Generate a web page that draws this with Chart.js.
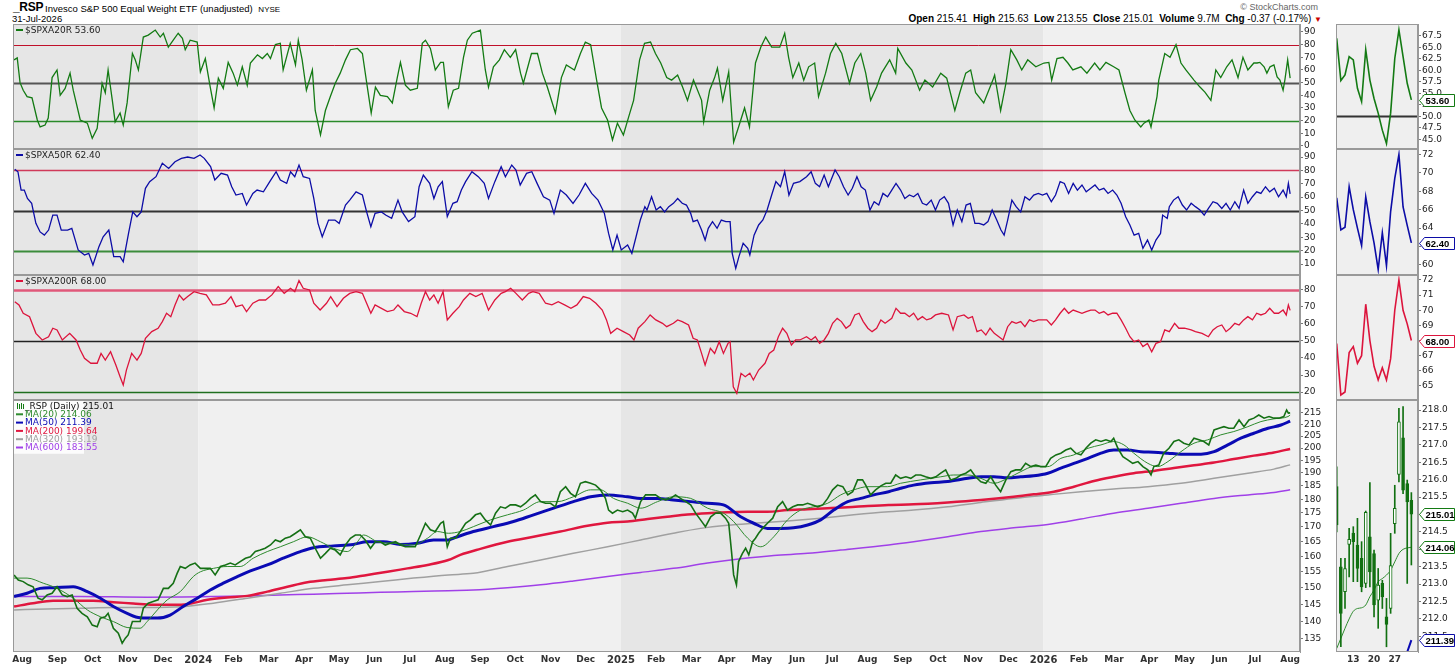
<!DOCTYPE html>
<html>
<head>
<meta charset="utf-8">
<script src="https://cdn.jsdelivr.net/npm/chart.js@4.4.1/dist/chart.umd.min.js"></script>
<style>
  body { margin: 0; background: #fff; width: 1456px; height: 666px; overflow: hidden; position: relative; font-family: "Liberation Sans", Arial, sans-serif; }
  .hdr { position: absolute; white-space: nowrap; color: #000; }
  #main { position: absolute; left: 0; top: 24px; }
  #side { position: absolute; left: 1336px; top: 24px; }
</style>
</head>
<body>
<div class="hdr" style="left:13px;top:0px;font-size:12px;font-weight:bold;letter-spacing:-0.3px;">_RSP</div>
<div class="hdr" style="left:45px;top:3px;font-size:9.5px;">Invesco S&amp;P 500 Equal Weight ETF (unadjusted) <span style="font-size:8px;margin-left:3px;">NYSE</span></div>
<div class="hdr" style="left:12px;top:13px;font-size:9.5px;">31-Jul-2026</div>
<div class="hdr" style="right:138px;top:2px;font-size:9px;color:#666;">&copy; StockCharts.com</div>
<div class="hdr" style="right:134px;top:13px;font-size:10px;">
  <b>Open</b> 215.41&nbsp; <b>High</b> 215.63&nbsp; <b>Low</b> 213.55&nbsp; <b>Close</b> 215.01&nbsp; <b>Volume</b> 9.7M&nbsp; <b>Chg</b> -0.37 (-0.17%) <span style="color:#c00;font-size:8px;">&#9660;</span>
</div>
<canvas id="main" width="1330" height="642"></canvas>
<canvas id="side" width="120" height="642"></canvas>
<script>
// x values are months since 1-Aug-2023
const monthLabels = ['Aug','Sep','Oct','Nov','Dec','2024','Feb','Mar','Apr','May','Jun','Jul',
  'Aug','Sep','Oct','Nov','Dec','2025','Feb','Mar','Apr','May','Jun','Jul',
  'Aug','Sep','Oct','Nov','Dec','2026','Feb','Mar','Apr','May','Jun','Jul','Aug'];
const yearStarts = [5, 17, 29];

const a20Ticks = [0, 10, 20, 30, 40, 50, 60, 70, 80, 90];
const a50Ticks = [10, 20, 30, 40, 50, 60, 70, 80, 90];
const a200Ticks = [20, 30, 40, 50, 60, 70, 80];
const priceTicks = [135, 140, 145, 150, 155, 160, 165, 170, 175, 180, 185, 190, 195, 200, 205, 210, 215];
const breadthLevels = [80, 50, 20];

// $SPXA20R
const a20 = [[-0.23,68],[-0.14,69.5],[-0.06,50],[0.03,44],[0.14,39],[0.28,38],[0.43,20.5],[0.51,15],[0.65,16.5],[0.74,22],[0.85,54],[0.99,60],[1.08,40],[1.22,45.5],[1.36,57.5],[1.45,44],[1.65,20.5],[1.85,18],[1.99,6],[2.13,14],[2.27,49.5],[2.36,42],[2.44,60],[2.56,36],[2.64,19],[2.78,26],[2.87,16.5],[2.98,34],[3.13,73],[3.21,68],[3.30,60],[3.44,86],[3.58,87.5],[3.78,91.5],[3.92,86],[4.01,89],[4.15,78],[4.29,83.5],[4.43,89],[4.55,85],[4.63,76],[4.77,83.5],[4.97,82],[5.06,58.5],[5.20,69],[5.34,46.5],[5.45,30],[5.57,53.5],[5.71,45.5],[5.85,66],[5.99,57.5],[6.11,48],[6.25,62.5],[6.39,48],[6.48,65.5],[6.68,72],[6.82,69],[6.96,73],[7.05,69],[7.19,80],[7.33,81],[7.41,60],[7.61,81],[7.76,64],[7.84,83.5],[7.95,68],[8.07,44],[8.24,60],[8.32,28],[8.47,8.7],[8.61,28],[8.75,39],[8.89,49.5],[9.03,57.5],[9.18,68],[9.32,76],[9.52,77],[9.66,73],[9.80,46.5],[9.91,26],[10.03,46.5],[10.17,40],[10.37,39],[10.51,34],[10.65,54],[10.74,66],[10.88,48],[11.02,44],[11.22,45.5],[11.36,81],[11.45,83.5],[11.59,77],[11.73,60],[11.88,66],[11.96,66],[12.10,31],[12.24,44],[12.39,45.5],[12.53,70],[12.64,83.5],[12.78,89],[13.01,91.5],[13.15,60],[13.24,46.5],[13.38,62.5],[13.55,68],[13.69,76],[13.86,70],[14.01,76],[14.15,57.5],[14.23,49.5],[14.46,73],[14.63,73],[14.77,57.5],[14.91,46.5],[15.14,26],[15.31,54],[15.45,64],[15.68,60],[15.85,73],[15.99,82],[16.14,80],[16.31,52],[16.45,30],[16.62,20.5],[16.76,4.7],[16.90,18],[17.07,8.7],[17.22,23],[17.36,36],[17.53,68],[17.67,81],[17.84,82],[17.98,73],[18.13,65.5],[18.30,54],[18.44,52],[18.61,56],[18.75,46.5],[18.89,36],[19.06,52],[19.29,36],[19.35,19],[19.52,44],[19.66,54],[19.74,61.5],[19.89,36],[20.06,58.5],[20.20,3],[20.34,15],[20.51,30],[20.65,15],[20.82,65.5],[20.97,78],[21.11,86],[21.28,78],[21.51,78],[21.65,89],[21.76,70],[21.88,54],[22.05,65.5],[22.19,52],[22.33,62.5],[22.50,65.5],[22.61,39],[22.81,57.5],[22.95,73],[23.10,81],[23.27,73],[23.49,49.5],[23.64,65.5],[23.81,73],[23.95,57.5],[24.09,36],[24.26,46.5],[24.40,57.5],[24.63,68],[24.80,57.5],[24.86,77],[25.09,65.5],[25.26,60],[25.48,44],[25.63,52],[25.85,46.5],[26.08,57.5],[26.25,53.5],[26.48,28],[26.62,42],[26.79,57.5],[26.93,60],[27.07,42],[27.30,34],[27.56,52],[27.61,56],[27.78,28],[27.93,49.5],[28.07,76],[28.24,68],[28.38,60],[28.55,68],[28.78,62.5],[29.01,65.5],[29.15,66],[29.23,52],[29.38,69],[29.55,70],[29.69,65.5],[29.83,60],[30.06,62.5],[30.23,57.5],[30.45,65.5],[30.60,60],[30.77,66],[30.99,62.5],[31.14,60],[31.31,42],[31.45,28],[31.59,20.5],[31.76,15],[31.85,18],[31.99,20.5],[32.05,15],[32.22,39],[32.27,52],[32.44,73],[32.59,70],[32.76,80],[32.90,65.5],[33.04,60],[33.27,52],[33.44,46.5],[33.58,42.5],[33.75,36],[33.89,60],[34.03,54],[34.20,62.5],[34.35,68],[34.52,54],[34.66,70],[34.80,60],[34.97,65.5],[35.06,65.5],[35.14,66],[35.26,62.5],[35.34,57.5],[35.43,62.5],[35.54,64],[35.63,54.5],[35.71,52],[35.80,44],[35.85,52],[35.93,68],[36.0,53.6]];

// $SPXA50R
const a50 = [[-0.21,80.8],[-0.12,79],[-0.03,65.3],[0.06,65.3],[0.15,59],[0.27,55.4],[0.39,40.4],[0.51,34],[0.63,31.6],[0.75,35.4],[0.87,46.6],[0.99,46.6],[1.11,35.4],[1.29,35.4],[1.41,36.7],[1.59,20.5],[1.77,16.7],[1.89,18],[2.01,9.3],[2.18,23],[2.30,30.4],[2.46,35.4],[2.60,15.5],[2.78,15.5],[2.87,11.7],[3.02,32.9],[3.14,49],[3.26,45.4],[3.38,49],[3.50,66.6],[3.62,71.6],[3.80,75.3],[3.98,85.3],[4.16,81.5],[4.34,86.5],[4.52,89],[4.70,90],[4.88,89],[5.05,91.5],[5.17,89],[5.35,82.8],[5.47,72.8],[5.65,77.8],[5.83,76.5],[5.95,67.8],[6.07,61.6],[6.25,62.8],[6.37,54.1],[6.55,62.8],[6.67,65.3],[6.85,64],[7.03,71.6],[7.21,79],[7.33,72.8],[7.51,70.3],[7.62,79],[7.74,75.3],[7.86,84],[7.98,75.3],[8.16,74],[8.28,59],[8.40,40.4],[8.52,30.4],[8.70,42.9],[8.88,42.9],[9.00,40.4],[9.18,54.1],[9.30,57.8],[9.48,64],[9.66,61.6],[9.78,49],[9.90,37.9],[10.02,47.9],[10.20,49],[10.32,46.6],[10.49,44.1],[10.67,57.8],[10.79,49],[10.97,41.7],[11.15,45.4],[11.27,67.8],[11.39,76.5],[11.57,70.3],[11.69,59],[11.81,67.8],[11.93,71.6],[12.07,45.4],[12.23,55.4],[12.35,56.6],[12.47,65.3],[12.59,71.6],[12.77,79],[12.95,75.3],[13.12,70.3],[13.24,59],[13.42,71.6],[13.60,82.8],[13.72,75.3],[13.90,84],[14.02,80.3],[14.14,69.1],[14.32,77.8],[14.47,79],[14.62,70.3],[14.80,60.3],[14.98,57.8],[15.10,47.9],[15.28,65.3],[15.45,61.6],[15.64,55.4],[15.81,61.6],[15.99,70.3],[16.17,62.8],[16.35,57.8],[16.53,47.9],[16.65,32.9],[16.77,20.5],[16.89,31.6],[17.01,20.5],[17.19,24.2],[17.31,18],[17.43,30.4],[17.55,42.9],[17.68,52.9],[17.74,50.4],[17.87,60.3],[18.0,50.4],[18.12,52.9],[18.24,49],[18.36,52.9],[18.49,55.4],[18.61,59],[18.74,55.4],[18.86,54.1],[18.98,47.9],[19.05,41.7],[19.17,42.9],[19.29,35.4],[19.39,27.9],[19.48,36.7],[19.60,41.7],[19.73,36.7],[19.85,42.9],[19.98,41.7],[20.10,41.7],[20.16,18],[20.26,6.8],[20.35,15.5],[20.47,25.5],[20.60,21.7],[20.66,16.7],[20.78,31.6],[20.91,39.2],[21.03,42.9],[21.15,50.4],[21.28,61.6],[21.40,71.6],[21.53,67.8],[21.65,79],[21.77,61.6],[21.90,70.3],[22.08,71.6],[22.27,75.3],[22.40,79],[22.52,70.3],[22.64,67.8],[22.77,76.5],[22.89,67.8],[23.08,80.3],[23.20,75.3],[23.32,67.8],[23.45,61.6],[23.57,66.6],[23.70,75.3],[23.82,67.8],[23.94,65.3],[24.07,50.4],[24.19,56.6],[24.32,54.1],[24.44,62.8],[24.57,60.3],[24.69,65.3],[24.81,70.3],[24.94,65.3],[25.06,59],[25.19,61.6],[25.31,60.3],[25.43,62.8],[25.56,55.4],[25.68,54.1],[25.81,57.8],[25.93,50.4],[26.05,57.8],[26.18,60.3],[26.30,55.4],[26.43,39.2],[26.55,50.4],[26.68,41.7],[26.80,54.1],[26.92,55.4],[27.05,40.4],[27.17,40.4],[27.30,39.2],[27.42,41.7],[27.54,50.4],[27.67,42.9],[27.79,35.4],[27.88,31.6],[27.98,42.9],[28.10,57.8],[28.22,52.9],[28.35,49],[28.47,60.3],[28.60,57.8],[28.72,61.6],[28.85,62.8],[28.97,61.6],[29.09,62.8],[29.22,56.6],[29.34,61.6],[29.47,71.6],[29.59,70.3],[29.71,62.8],[29.84,70.3],[29.96,65.3],[30.09,69.1],[30.21,64],[30.34,66.6],[30.46,69.1],[30.58,65.3],[30.71,66.6],[30.83,62.8],[30.96,65.3],[31.08,61.6],[31.20,55.4],[31.33,45.4],[31.45,39.2],[31.57,31.6],[31.70,32.9],[31.82,21.7],[31.95,27.9],[32.07,20.5],[32.19,27.9],[32.32,32.9],[32.38,46.6],[32.51,44.1],[32.57,52.9],[32.69,57.8],[32.82,60.3],[32.94,54.1],[33.06,50.4],[33.19,55.4],[33.31,52.9],[33.44,50.4],[33.56,46.6],[33.68,51.6],[33.81,56.6],[33.93,55.4],[34.06,51.6],[34.18,55.4],[34.30,50.4],[34.43,56.6],[34.55,51.6],[34.68,65.3],[34.80,55.4],[34.93,60.3],[35.05,64],[35.17,62.8],[35.30,67.8],[35.42,64],[35.55,66.6],[35.67,60.3],[35.80,65.3],[35.89,60.3],[35.95,70.3],[36.0,62.4]];

// $SPXA200R
const a200 = [[-0.21,73.1],[-0.09,71.2],[0.03,66.3],[0.21,64.3],[0.39,54.5],[0.57,50.6],[0.75,52.5],[0.87,57.5],[0.99,56.5],[1.14,50.6],[1.35,54.5],[1.53,50.6],[1.65,44.7],[1.77,39.8],[1.95,36.9],[2.13,36.9],[2.24,42.7],[2.36,38.8],[2.51,43.7],[2.66,35.9],[2.78,29],[2.87,24.1],[2.96,32.9],[3.11,42.7],[3.26,38.8],[3.38,42.7],[3.50,51.6],[3.68,55.5],[3.86,57.5],[3.98,61.4],[4.10,66.3],[4.22,64.3],[4.34,71.2],[4.46,77.1],[4.58,74.1],[4.70,76.1],[4.88,79],[5.05,78],[5.23,77.1],[5.41,71.2],[5.59,71.2],[5.77,72.2],[5.93,76.1],[6.07,70.2],[6.25,71.2],[6.37,67.3],[6.55,72.2],[6.73,74.1],[6.91,74.1],[7.09,77.1],[7.27,82],[7.44,78],[7.62,81],[7.74,79],[7.86,85.5],[7.98,81],[8.16,80],[8.28,72.2],[8.46,68.2],[8.64,72.2],[8.76,76.1],[8.94,70.2],[9.12,75.1],[9.30,78],[9.48,79],[9.66,78],[9.78,72.2],[9.90,66.3],[10.02,71.2],[10.20,69.2],[10.37,67.3],[10.55,68.2],[10.67,71.2],[10.85,67.3],[11.03,66.3],[11.21,64.3],[11.33,72.2],[11.45,79],[11.57,74.1],[11.69,77.1],[11.81,72.2],[11.95,79],[12.07,62.4],[12.23,66.3],[12.41,70.2],[12.53,74.1],[12.71,78],[12.88,76.1],[13.06,78],[13.24,68.2],[13.42,74.1],[13.60,78],[13.72,79],[13.87,81],[14.02,78],[14.20,74.1],[14.38,78],[14.50,79],[14.68,78],[14.86,72.2],[15.04,71.2],[15.22,73.1],[15.40,71.2],[15.58,69.2],[15.75,71.2],[15.93,76.1],[16.11,75.1],[16.29,72.2],[16.47,68.2],[16.59,62.4],[16.71,54.5],[16.89,57.5],[17.07,55.5],[17.25,53.5],[17.37,50.6],[17.49,57.5],[17.68,61.4],[17.83,65.3],[17.99,62.4],[18.18,60.4],[18.30,58.4],[18.49,60.4],[18.61,62.4],[18.74,61.4],[18.92,59.4],[19.05,51.6],[19.17,50.6],[19.29,42.7],[19.39,35.9],[19.54,45.7],[19.66,42.7],[19.79,49.6],[19.91,42.7],[20.04,48.6],[20.10,49.6],[20.19,23.1],[20.29,19.2],[20.41,31],[20.53,29],[20.66,31],[20.76,27.1],[20.91,32.9],[21.09,36.9],[21.21,42.7],[21.34,44.7],[21.47,52.5],[21.59,57.5],[21.71,54.5],[21.84,47.6],[21.96,50.6],[22.08,50.6],[22.27,52.5],[22.40,50.6],[22.52,52.5],[22.64,48.6],[22.77,50.6],[22.89,54.5],[23.01,60.4],[23.14,63.3],[23.26,61.4],[23.39,57.5],[23.51,59.4],[23.64,65.3],[23.76,66.3],[23.88,61.4],[24.01,57.5],[24.13,55.5],[24.26,57.5],[24.38,62.4],[24.50,60.4],[24.69,63.3],[24.81,69.2],[24.94,66.3],[25.06,66.3],[25.19,64.3],[25.31,66.3],[25.43,62.4],[25.56,64.3],[25.68,62.4],[25.81,63.3],[25.93,65.3],[26.11,66.3],[26.30,65.3],[26.43,56.5],[26.55,64.3],[26.74,65.3],[26.86,63.3],[26.98,64.3],[27.11,55.5],[27.23,56.5],[27.36,53.5],[27.48,57.5],[27.60,54.5],[27.73,52.5],[27.85,50.6],[27.98,58.4],[28.10,61.4],[28.22,60.4],[28.35,61.4],[28.47,58.4],[28.60,62.4],[28.72,61.4],[28.85,62.4],[28.97,62.4],[29.09,62.4],[29.22,59.4],[29.34,62.4],[29.47,66.3],[29.59,69.2],[29.71,66.3],[29.84,68.2],[29.96,67.3],[30.09,66.3],[30.21,67.3],[30.34,68.2],[30.46,68.2],[30.58,66.3],[30.71,67.3],[30.83,65.3],[30.96,66.3],[31.08,66.3],[31.20,62.4],[31.33,57.5],[31.45,52.5],[31.57,49.6],[31.70,50.6],[31.82,46.7],[31.95,48.6],[32.07,43.7],[32.19,48.6],[32.32,49.6],[32.44,56.5],[32.57,55.5],[32.72,60.4],[32.84,57.5],[33.00,57.5],[33.19,56.5],[33.31,55.5],[33.50,54.5],[33.68,52.5],[33.81,56.5],[33.93,58.4],[34.06,59.4],[34.18,55.5],[34.30,57.5],[34.43,60.4],[34.55,59.4],[34.68,62.4],[34.80,64.3],[34.93,62.4],[35.05,66.3],[35.17,65.3],[35.30,66.3],[35.42,69.2],[35.55,66.3],[35.67,66.3],[35.80,68.2],[35.89,65.3],[35.95,71.2],[36.0,68.0]];

// RSP daily close
const rspClose = [[-0.23,154.0],[-0.11,152.4],[0.03,151.9],[0.17,150.9],[0.31,150.3],[0.45,146.8],[0.57,146.3],[0.71,147.8],[0.85,148.3],[0.99,150.3],[1.14,147.8],[1.28,147.3],[1.42,147.8],[1.56,143.8],[1.70,142.3],[1.85,141.3],[1.99,138.9],[2.13,138.4],[2.22,140.9],[2.36,141.3],[2.44,142.3],[2.59,138.0],[2.73,136.6],[2.84,133.8],[2.93,135.2],[3.01,136.1],[3.13,139.9],[3.27,139.9],[3.35,139.9],[3.44,143.8],[3.58,145.3],[3.72,145.8],[3.86,146.3],[4.01,149.8],[4.15,149.8],[4.29,151.4],[4.40,154.5],[4.49,156.7],[4.63,156.1],[4.77,157.2],[4.91,157.8],[5.06,156.1],[5.20,156.1],[5.34,156.1],[5.48,154.0],[5.63,156.7],[5.77,157.2],[5.91,157.8],[6.05,157.2],[6.19,158.3],[6.34,159.4],[6.48,159.9],[6.62,161.6],[6.76,162.1],[6.90,162.7],[7.05,163.8],[7.19,165.5],[7.33,164.9],[7.47,166.1],[7.61,166.6],[7.76,167.8],[7.90,169.0],[8.04,166.6],[8.18,166.1],[8.32,162.7],[8.47,159.4],[8.61,161.0],[8.75,162.7],[8.89,162.1],[9.03,160.5],[9.18,163.8],[9.32,166.1],[9.46,167.2],[9.60,167.2],[9.74,165.5],[9.89,162.7],[10.03,164.9],[10.17,164.9],[10.31,163.8],[10.45,164.4],[10.60,164.9],[10.74,163.8],[10.88,163.2],[11.02,163.2],[11.16,163.2],[11.31,167.2],[11.45,171.3],[11.59,169.0],[11.73,168.4],[11.88,171.3],[11.96,171.9],[12.07,163.2],[12.16,166.1],[12.30,166.1],[12.44,168.4],[12.59,171.3],[12.73,172.5],[12.87,174.3],[13.01,174.9],[13.15,172.5],[13.30,170.7],[13.44,174.9],[13.58,177.2],[13.72,176.7],[13.86,177.9],[14.01,177.9],[14.15,177.2],[14.29,178.5],[14.43,180.3],[14.57,181.6],[14.72,179.1],[14.86,178.5],[15.00,178.5],[15.14,177.2],[15.28,182.8],[15.43,184.7],[15.57,182.2],[15.71,180.9],[15.85,186.0],[15.99,186.6],[16.14,186.0],[16.28,185.3],[16.42,183.5],[16.56,180.3],[16.65,176.0],[16.76,174.9],[16.90,176.0],[17.05,175.4],[17.19,176.0],[17.33,174.9],[17.41,173.1],[17.56,179.1],[17.70,181.6],[17.84,181.6],[17.98,181.6],[18.13,180.3],[18.27,179.7],[18.41,180.3],[18.55,181.6],[18.69,180.3],[18.84,179.1],[18.98,177.9],[19.12,174.9],[19.26,172.5],[19.40,170.1],[19.55,173.6],[19.69,174.9],[19.83,174.9],[19.97,173.1],[20.06,171.3],[20.14,161.6],[20.20,154.0],[20.28,150.9],[20.34,158.3],[20.45,161.0],[20.54,162.7],[20.63,160.5],[20.74,164.9],[20.82,166.1],[20.91,167.8],[21.02,169.5],[21.16,171.3],[21.31,173.1],[21.45,177.2],[21.59,179.1],[21.73,176.0],[21.88,177.2],[22.02,177.9],[22.16,177.9],[22.30,178.5],[22.44,177.9],[22.59,177.2],[22.73,177.9],[22.87,180.3],[23.01,183.5],[23.15,185.3],[23.30,184.7],[23.44,181.6],[23.58,182.8],[23.72,187.3],[23.86,187.3],[23.95,185.3],[24.09,181.6],[24.23,183.5],[24.38,185.0],[24.52,186.0],[24.66,186.0],[24.80,189.2],[24.94,187.9],[25.09,188.5],[25.23,187.9],[25.37,189.2],[25.51,189.2],[25.65,188.5],[25.80,187.9],[25.94,188.5],[26.08,189.9],[26.22,191.2],[26.36,187.3],[26.51,187.9],[26.65,189.2],[26.79,189.9],[26.93,191.2],[27.07,188.5],[27.22,186.6],[27.36,186.0],[27.50,188.5],[27.64,185.3],[27.78,182.8],[27.93,187.3],[28.07,190.5],[28.21,191.2],[28.35,191.2],[28.49,193.8],[28.64,192.5],[28.78,193.1],[28.92,192.5],[29.06,192.5],[29.20,195.8],[29.35,197.2],[29.49,197.9],[29.63,199.2],[29.77,199.9],[29.91,197.9],[30.06,197.2],[30.20,199.9],[30.34,202.0],[30.48,203.4],[30.63,202.7],[30.77,203.4],[30.91,202.7],[30.99,204.1],[31.11,199.9],[31.25,196.5],[31.39,195.2],[31.53,193.8],[31.68,194.5],[31.82,192.5],[31.96,191.2],[32.05,189.2],[32.13,192.5],[32.27,193.1],[32.41,197.9],[32.56,199.9],[32.70,202.7],[32.84,203.4],[32.98,202.0],[33.13,201.3],[33.27,204.1],[33.41,203.4],[33.55,202.7],[33.69,201.3],[33.84,207.6],[33.98,208.3],[34.12,209.0],[34.26,208.3],[34.40,208.3],[34.55,211.9],[34.69,209.0],[34.83,211.9],[34.97,212.7],[35.11,214.1],[35.26,212.7],[35.40,213.4],[35.54,212.7],[35.68,212.7],[35.82,213.4],[35.90,216.3],[35.95,214.9],[36.0,215.01]];

const ma20 = [[-0.23,153.0],[0.14,153.0],[0.60,151.4],[0.99,149.8],[1.45,146.8],[1.85,143.3],[2.22,141.3],[2.59,139.9],[2.98,138.2],[3.35,138.0],[3.55,139.9],[3.84,143.3],[4.12,146.3],[4.49,148.8],[4.86,153.5],[5.06,155.0],[5.43,156.1],[5.82,156.7],[6.19,156.7],[6.56,159.4],[6.96,161.6],[7.33,163.2],[7.70,164.9],[8.10,166.6],[8.47,164.9],[8.84,162.7],[9.23,161.6],[9.52,164.9],[9.69,167.2],[10.09,164.9],[10.54,164.4],[11.11,163.8],[11.51,166.1],[11.79,168.4],[12.10,167.8],[12.44,168.4],[12.81,170.1],[13.30,172.5],[13.78,174.3],[14.23,176.0],[14.72,179.1],[15.20,179.1],[15.65,180.9],[16.14,183.5],[16.42,183.5],[16.79,180.3],[17.19,178.5],[17.56,176.7],[18.04,179.1],[18.49,180.9],[18.98,180.3],[19.46,176.7],[19.91,174.9],[20.20,171.9],[20.60,166.1],[20.97,163.2],[21.34,166.6],[21.73,172.5],[22.10,176.0],[22.47,177.2],[22.87,178.5],[23.24,181.6],[23.61,183.5],[24.01,184.7],[24.57,184.7],[24.94,186.0],[25.51,187.3],[26.08,188.5],[26.45,189.2],[26.85,189.2],[27.22,187.9],[27.59,186.0],[27.98,187.9],[28.35,190.5],[28.72,192.5],[29.12,192.5],[29.49,195.8],[29.86,197.2],[30.26,199.9],[30.63,201.3],[30.99,202.7],[31.28,201.3],[31.56,197.9],[31.96,193.8],[32.24,192.5],[32.53,194.5],[32.90,198.5],[33.27,202.0],[33.66,203.4],[34.03,205.5],[34.40,206.9],[34.80,209.0],[35.17,211.2],[35.54,212.4],[35.94,213.4],[36.0,214.06]];

const ma50 = [[-0.23,147.3],[0.14,148.3],[0.51,149.8],[0.88,150.0],[1.45,150.3],[1.85,148.8],[2.22,146.8],[2.59,144.3],[2.98,142.3],[3.35,141.0],[3.84,140.9],[4.20,141.8],[4.57,144.3],[4.97,146.8],[5.34,149.3],[5.71,151.4],[6.11,153.5],[6.48,155.3],[6.96,157.2],[7.41,159.4],[7.90,161.6],[8.27,162.9],[8.84,163.5],[9.40,164.0],[9.80,164.9],[10.26,164.9],[10.74,164.0],[11.22,164.4],[11.68,165.5],[12.10,165.5],[12.24,166.1],[12.81,168.4],[13.38,170.1],[13.95,171.9],[14.52,174.3],[15.09,176.7],[15.65,179.1],[16.14,180.9],[16.62,181.6],[17.19,180.9],[17.56,180.3],[18.04,180.3],[18.49,179.7],[18.98,179.1],[19.46,178.5],[19.91,177.9],[20.40,173.6],[20.77,171.3],[21.16,169.5],[21.53,169.5],[21.90,169.7],[22.30,170.7],[22.67,172.5],[23.04,176.0],[23.44,179.1],[23.81,180.3],[24.18,181.6],[24.60,182.8],[24.94,184.1],[25.31,185.3],[25.80,186.2],[26.28,186.7],[26.85,187.9],[27.22,188.5],[27.59,188.5],[27.98,188.1],[28.35,188.5],[28.72,188.9],[29.12,189.9],[29.49,191.9],[29.86,193.8],[30.26,195.8],[30.63,197.9],[30.99,199.2],[31.39,199.2],[31.76,198.5],[32.13,198.3],[32.53,197.9],[32.90,197.5],[33.47,197.5],[33.84,198.5],[34.23,201.3],[34.60,204.1],[34.97,206.2],[35.37,208.3],[35.74,209.7],[36.0,211.39]];

const ma200 = [[-0.23,144.3],[0.31,145.3],[0.88,146.0],[2.02,146.0],[2.59,145.6],[3.15,145.2],[3.72,144.8],[4.29,144.8],[4.69,145.0],[5.26,146.3],[5.82,147.0],[6.39,147.5],[6.96,148.8],[7.53,150.3],[8.10,151.7],[8.66,152.4],[9.23,153.0],[9.80,154.0],[10.37,155.0],[10.94,156.1],[11.51,157.2],[12.10,158.8],[12.44,160.5],[13.01,162.5],[13.78,164.9],[14.52,166.6],[15.28,168.4],[16.05,170.4],[16.62,171.5],[17.19,171.9],[17.76,172.8],[18.32,173.6],[18.89,174.4],[19.46,174.9],[20.03,175.2],[20.60,175.4],[21.16,175.4],[21.73,176.0],[22.30,176.3],[22.87,176.7],[23.44,177.0],[24.01,177.5],[24.60,177.9],[25.31,178.1],[26.28,178.8],[27.22,179.7],[28.15,180.9],[28.72,181.8],[29.29,182.8],[29.86,184.7],[30.43,186.9],[30.99,188.5],[31.56,189.9],[32.13,190.8],[32.70,191.9],[33.27,193.0],[33.84,194.1],[34.40,195.5],[34.97,196.9],[35.54,198.2],[36.0,199.64]];

const ma320 = [[-0.23,143.3],[0.71,143.6],[1.65,143.8],[2.59,144.0],[3.55,144.0],[4.49,144.2],[5.43,145.3],[6.39,146.8],[7.33,148.3],[8.27,149.8],[9.23,150.9],[10.17,151.9],[11.11,153.0],[12.10,154.0],[12.81,154.5],[13.78,156.7],[14.72,158.8],[15.65,161.0],[16.62,163.2],[17.56,165.5],[18.49,167.8],[19.26,169.5],[20.03,170.6],[20.77,171.3],[21.73,172.1],[22.67,173.1],[23.61,174.3],[24.60,175.4],[25.31,176.0],[26.28,177.2],[27.22,178.8],[28.15,180.3],[29.12,181.6],[30.06,182.8],[30.99,183.8],[31.96,184.7],[32.90,186.0],[33.84,187.9],[34.80,189.9],[35.54,191.5],[36.0,193.19]];

const ma600 = [[-0.23,147.3],[1.65,147.3],[3.55,147.1],[5.43,147.3],[6.39,147.5],[7.33,147.8],[8.27,148.0],[9.23,148.3],[10.17,148.6],[11.11,148.8],[12.10,149.1],[12.81,149.3],[13.78,150.0],[14.72,150.9],[15.65,152.1],[16.62,153.5],[17.56,154.8],[18.49,156.1],[19.46,157.8],[20.40,159.2],[21.34,160.3],[22.30,161.0],[23.24,162.1],[24.60,163.8],[25.31,164.9],[26.28,166.6],[27.22,168.4],[28.15,169.7],[29.12,170.9],[30.06,172.8],[30.99,174.9],[31.96,176.7],[32.90,178.5],[33.84,180.3],[34.80,181.6],[35.54,182.5],[36.0,183.55]];

// side panels: last 19 sessions (7-Jul .. 31-Jul-2026), x = session index
const dayTicks = [4, 9, 14];
const dayLabels = ['13', '20', '27'];
const m20Ticks = [45, 47.5, 50, 52.5, 55, 57.5, 60, 62.5, 65, 67.5];
const m50Ticks = [60, 62, 64, 66, 68, 70, 72];
const m200Ticks = [65, 66, 67, 68, 69, 70, 71, 72];
const mPxTicks = [211.5, 212, 212.5, 213, 213.5, 214, 214.5, 215, 215.5, 216, 216.5, 217, 217.5, 218];

const a20Recent = [67.0, 57.8, 59.0, 63.0, 62.3, 56.1, 53.2, 64.5, 57.9, 53.9, 50.7, 47.0, 44.1, 50.7, 62.6, 68.8, 63.0, 57.2, 53.6];
const a50Recent = [67.3, 63.8, 64.1, 68.5, 66.0, 64.0, 62.1, 67.4, 64.7, 62.4, 59.5, 63.5, 59.9, 65.8, 69.4, 72.0, 66.3, 64.3, 62.4];
const a200Recent = [67.8, 64.4, 64.6, 67.2, 67.6, 66.5, 67.0, 70.4, 68.0, 66.3, 65.4, 66.2, 65.4, 66.8, 70.0, 72.0, 70.0, 69.1, 68.0];
const dOpen  = [215.8, 213.5, 212.78, 214.14, 214.47, 214.12, 213.74, 213.02, 214.36, 213.88, 212.54, 213.02, 212.06, 212.3, 214.74, 216.15, 217.2, 215.89, 215.41];
const dHigh  = [216.37, 213.74, 213.74, 214.6, 214.65, 214.89, 214.22, 215.1, 215.92, 213.98, 213.45, 213.11, 212.59, 214.46, 215.84, 218.05, 218.1, 215.99, 215.63];
const dLow   = [214.5, 211.2, 212.3, 213.21, 213.07, 213.07, 212.78, 212.9, 212.92, 212.06, 211.73, 212.3, 211.2, 212.16, 214.46, 215.94, 215.6, 213.02, 213.55];
const dClose = [214.7, 212.16, 213.45, 214.29, 214.22, 213.45, 212.92, 215.06, 213.35, 212.4, 212.97, 212.63, 211.84, 213.53, 215.18, 217.66, 215.7, 215.36, 215.01];
const ma20Recent = [211.15, 211.44, 211.73, 212.0, 212.22, 212.3, 212.32, 212.4, 212.64, 212.83, 213.07, 213.16, 213.26, 213.4, 213.64, 213.88, 214.0, 214.04, 214.06];
const ma50Recent = [[16, 210.7], [17, 211.05], [18, 211.39]];

// colours
const GREEN = '#137a13', BLUE = '#0c0ca6', RED = '#dc143c';
const FONT = '"DejaVu Sans", Verdana, sans-serif';

function yAxis(weight, min, max, ticks, width, fmt, type) {
  return {
    type: type || 'linear', position: 'right', stack: 'panels', stackWeight: weight,
    min: min, max: max, bounds: 'data',
    grid: { drawOnChartArea: false, drawTicks: true, tickLength: 3, tickColor: '#777' },
    border: { display: true, color: '#999', dash: [1, 2] },
    ticks: { font: { family: FONT, size: 9 }, color: '#222', padding: 1, autoSkip: false,
             callback: v => fmt ? fmt(v) : String(v) },
    afterBuildTicks: s => { s.ticks = ticks.map(v => ({ value: v })); },
    afterFit: s => { s.width = width; s.paddingTop = 0; s.paddingBottom = 0; }
  };
}

function xAxis(min, max, tickVals, labelOf) {
  return {
    type: 'linear', min: min, max: max, bounds: 'data', offset: false,
    grid: { display: false, drawTicks: false, tickLength: 0 }, border: { display: false },
    ticks: {
      autoSkip: false, maxRotation: 0, padding: 2, color: '#333',
      font: c => ({ family: FONT, size: /^\d{4}$/.test(labelOf(c.tick ? c.tick.value : 0)) ? 10 : 9, weight: 'bold' }),
      callback: v => labelOf(v)
    },
    afterBuildTicks: s => { s.ticks = tickVals.map(v => ({ value: v })); },
    afterFit: s => { s.height = 14; s.paddingLeft = 0; s.paddingRight = 0; }
  };
}

function decor(cfg) {
  return {
    id: 'decor',
    beforeDatasetsDraw(chart) {
      const { ctx, chartArea: ca, scales } = chart;
      const xs = scales.x;
      ctx.save();
      cfg.panels.forEach(p => {
        const s = scales[p.axis];
        if (cfg.bands) {
          const edges = [xs.min].concat(cfg.bands, [xs.max]);
          for (let i = 0; i < edges.length - 1; i++) {
            const x0 = xs.getPixelForValue(edges[i]), x1 = xs.getPixelForValue(edges[i + 1]);
            ctx.fillStyle = i % 2 === 0 ? '#e6e6e6' : '#f0f0f0';
            ctx.fillRect(x0, s.top, x1 - x0, s.bottom - s.top);
          }
        } else {
          ctx.fillStyle = '#efefef';
          ctx.fillRect(ca.left, s.top, ca.width, s.bottom - s.top);
        }
        (p.levels || []).forEach((v, i) => {
          const y = Math.round(s.getPixelForValue(v)) + 0.5;
          ctx.strokeStyle = p.levelColors[i];
          ctx.lineWidth = p.levelWidths[i];
          ctx.beginPath(); ctx.moveTo(ca.left, y); ctx.lineTo(ca.right, y); ctx.stroke();
        });
      });
      ctx.restore();
    },
    afterDatasetsDraw(chart) {
      const { ctx, chartArea: ca, scales } = chart;
      ctx.save();
      cfg.panels.forEach(p => {
        const s = scales[p.axis];
        ctx.strokeStyle = '#999'; ctx.lineWidth = 1;
        ctx.strokeRect(ca.left + 0.5, Math.round(s.top) + 0.5, ca.width - 1, Math.round(s.bottom - s.top) - 1);
        ctx.font = '9px ' + FONT; ctx.textBaseline = 'middle'; ctx.textAlign = 'left';
        if (p.legend) {
          if (p.legendBox) {
            ctx.fillStyle = 'rgba(255,255,255,0.85)';
            ctx.fillRect(ca.left + 1, s.top + 1, 70, p.legend.length * 8.3 + 3);
          }
          p.legend.forEach((row, i) => {
            const y = s.top + 6 + i * 8.3, x = ca.left + 3;
            ctx.strokeStyle = row.color; ctx.lineWidth = 2;
            ctx.beginPath();
            if (row.bars) {
              ctx.lineWidth = 1;
              [1, 3, 5, 7].forEach((dx, k) => { ctx.moveTo(x + dx + 0.5, y - 3 + k % 2); ctx.lineTo(x + dx + 0.5, y + 3); });
            } else { ctx.moveTo(x, y); ctx.lineTo(x + 7, y); }
            ctx.stroke();
            ctx.fillStyle = row.textColor || '#222';
            ctx.fillText(row.text, x + 9, y + 0.5);
          });
        }
      });
      ctx.restore();
    },
    afterDraw(chart) {
      if (!cfg.tags) return;
      const { ctx, chartArea: ca, scales } = chart;
      ctx.save();
      cfg.tags.forEach(t => {
        const y = Math.round(scales[t.axis].getPixelForValue(t.value)) + 0.5;
        const x0 = ca.right + 1.5, w = 35;
        ctx.beginPath();
        ctx.moveTo(x0, y); ctx.lineTo(x0 + 5, y - 6); ctx.lineTo(x0 + w, y - 6);
        ctx.lineTo(x0 + w, y + 6); ctx.lineTo(x0 + 5, y + 6); ctx.closePath();
        ctx.fillStyle = '#fff'; ctx.fill();
        ctx.strokeStyle = t.color; ctx.lineWidth = 1; ctx.stroke();
        ctx.fillStyle = '#000'; ctx.font = 'bold 9.5px "Liberation Sans", Arial, sans-serif';
        ctx.textBaseline = 'middle'; ctx.textAlign = 'left';
        ctx.fillText(t.text, x0 + 6, y + 0.5);
      });
      ctx.restore();
    }
  };
}

const lvlColors1 = ['#c0102a', '#555', '#2a8a2a'];
const mainPanels = [
  { axis: 'yA20', levels: breadthLevels, levelColors: lvlColors1, levelWidths: [1, 2, 1.5],
    legend: [{ text: '$SPXA20R 53.60', color: GREEN }] },
  { axis: 'yA50', levels: breadthLevels, levelColors: ['#d03a5a', '#333', '#3c8c3c'], levelWidths: [1.5, 2, 2],
    legend: [{ text: '$SPXA50R 62.40', color: BLUE }] },
  { axis: 'yA200', levels: breadthLevels, levelColors: ['#e0587a', '#222', '#1f6f1f'], levelWidths: [2.5, 1.5, 1.5],
    legend: [{ text: '$SPXA200R 68.00', color: RED }] },
  { axis: 'yPx', legendBox: true, legend: [
    { text: '_RSP (Daily) 215.01', color: GREEN, bars: true, textColor: '#111' },
    { text: 'MA(20) 214.06', color: '#2e8b2e', textColor: '#2e8b2e' },
    { text: 'MA(50) 211.39', color: '#0a0ab4', textColor: '#0a0ab4' },
    { text: 'MA(200) 199.64', color: '#e0173f', textColor: '#e0173f' },
    { text: 'MA(320) 193.19', color: '#a0a0a0', textColor: '#a0a0a0' },
    { text: 'MA(600) 183.55', color: '#a040e8', textColor: '#a040e8' }] }
];

const line = (data, axis, color, width, smooth) => ({
  type: 'line', data: data, yAxisID: axis, borderColor: color, borderWidth: width,
  pointRadius: 0, tension: 0, cubicInterpolationMode: smooth ? 'monotone' : 'default', fill: false
});

new Chart(document.getElementById('main'), {
  type: 'line',
  data: { datasets: [
    line(rspClose, 'yPx', '#157015', 1.6),
    line(a20, 'yA20', GREEN, 1.3),
    line(a50, 'yA50', BLUE, 1.3),
    line(a200, 'yA200', RED, 1.3),
    line(ma20, 'yPx', '#2e8b2e', 1, true),
    line(ma50, 'yPx', '#0a0ab4', 3, true),
    line(ma200, 'yPx', '#e0173f', 2.5, true),
    line(ma320, 'yPx', '#a0a0a0', 1.5, true),
    line(ma600, 'yPx', '#a040e8', 1.5, true)
  ] },
  options: {
    responsive: false, animation: false, events: [],
    layout: { padding: { left: 13, right: 0, top: 0, bottom: 0 } },
    plugins: { legend: { display: false }, tooltip: { enabled: false } },
    scales: {
      x: xAxis(-0.26, 36.28, monthLabels.map((_, i) => i), v => monthLabels[Math.round(v)] || ''),
      yA20: yAxis(125, -2.4, 96.3, a20Ticks, 30),
      yA50: yAxis(126, 1.8, 96, a50Ticks, 30),
      yA200: yAxis(125, 15.3, 88.8, a200Ticks, 30),
      yPx: yAxis(252, 131.4, 220.8, priceTicks, 30, null, 'logarithmic')
    }
  },
  plugins: [decor({ panels: mainPanels, bands: yearStarts })]
});

const idx = a => a.map((v, i) => [i, v]);
const f1 = v => Number(v).toFixed(1);

new Chart(document.getElementById('side'), {
  type: 'line',
  data: { datasets: [
    line(idx(a20Recent), 'yM20', GREEN, 1.6),
    line(idx(a50Recent), 'yM50', BLUE, 1.6),
    line(idx(a200Recent), 'yM200', RED, 1.6),
    { type: 'bar', yAxisID: 'yMPx', grouped: false, barThickness: 3, minBarLength: 1,
      data: dOpen.map((o, i) => ({ x: i, y: [o, dClose[i]] })),
      backgroundColor: c => dClose[c.dataIndex] > dOpen[c.dataIndex] ? '#fff' : '#117011',
      borderColor: '#117011', borderWidth: 1, borderSkipped: false },
    { type: 'bar', yAxisID: 'yMPx', grouped: false, barThickness: 1,
      data: dLow.map((l, i) => ({ x: i, y: [l, dHigh[i]] })), backgroundColor: '#117011' },
    line(idx(ma20Recent), 'yMPx', '#2e8b2e', 1, true),
    line(ma50Recent, 'yMPx', '#0a0ab4', 2)
  ] },
  options: {
    responsive: false, animation: false, events: [],
    layout: { padding: 0 },
    plugins: { legend: { display: false }, tooltip: { enabled: false } },
    scales: {
      x: xAxis(-0.17, 19.6, dayTicks, v => dayLabels[dayTicks.indexOf(Math.round(v))] || ''),
      yM20: yAxis(125, 42.9, 70.1, m20Ticks, 38, f1),
      yM50: yAxis(126, 58.9, 72.6, m50Ticks, 38),
      yM200: yAxis(125, 64.07, 72.33, m200Ticks, 38),
      yMPx: yAxis(252, 211.05, 218.29, mPxTicks, 38, f1)
    }
  },
  plugins: [decor({
    panels: [
      { axis: 'yM20', levels: [50], levelColors: ['#333'], levelWidths: [2] },
      { axis: 'yM50' }, { axis: 'yM200' }, { axis: 'yMPx' }
    ],
    tags: [
      { axis: 'yM20', value: 53.6, text: '53.60', color: GREEN },
      { axis: 'yM50', value: 62.4, text: '62.40', color: BLUE },
      { axis: 'yM200', value: 68.0, text: '68.00', color: RED },
      { axis: 'yMPx', value: 215.01, text: '215.01', color: GREEN },
      { axis: 'yMPx', value: 214.06, text: '214.06', color: GREEN },
      { axis: 'yMPx', value: 211.39, text: '211.39', color: BLUE }
    ]
  })]
});
</script>
</body>
</html>
